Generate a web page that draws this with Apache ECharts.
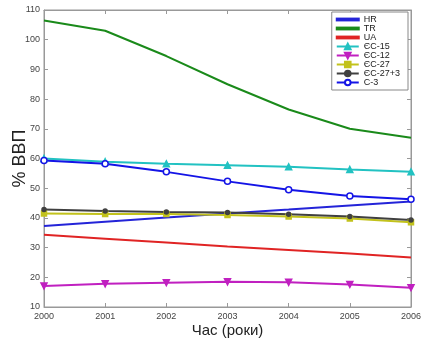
<!DOCTYPE html>
<html><head><meta charset="utf-8">
<script src="https://cdn.jsdelivr.net/npm/echarts@6/dist/echarts.min.js"></script>
<style>html,body{margin:0;padding:0;background:#fff}#c{width:437px;height:345px}</style>
</head><body><div id="c"></div>
<script>
const years = [2000, 2001, 2002, 2003, 2004, 2005, 2006];
const HR = [37.3, 38.7, 40.1, 41.5, 42.8, 44.2, 45.5];
const TR = [106.5, 103.0, 94.5, 85.0, 76.5, 70.0, 67.0];
const UA = [34.3, 33.0, 31.7, 30.4, 29.2, 28.0, 26.7];
const EU15 = [60.0, 58.9, 58.2, 57.7, 57.2, 56.3, 55.5];
const EU12 = [17.1, 17.8, 18.2, 18.5, 18.3, 17.6, 16.5];
const EU27 = [41.5, 41.3, 41.3, 41.0, 40.5, 39.8, 38.5];
const EU27p3 = [42.8, 42.3, 42.0, 41.8, 41.2, 40.5, 39.3];
const C3 = [59.3, 58.2, 55.5, 52.3, 49.5, 47.4, 46.3];
const names = ['HR', 'TR', 'UA', 'ЄС-15', 'ЄС-12', 'ЄС-27', 'ЄС-27+3', 'С-3'];

function pts(arr){ return years.map((y,i)=>[y,arr[i]]); }
function ser(name, arr, color, symbol, size, fill){
  return {name, type:'line', data:pts(arr), lineStyle:{color, width:2}, itemStyle:{color: fill||color, borderColor:color, borderWidth:1.5},
    color, symbol: symbol||'none', symbolSize: size||5, showSymbol: !!symbol, z:3};
}
const lineIcon = 'path://M0,4 L24,4 L24,6 L0,6 Z';
const chart = echarts.init(document.getElementById('c'));
chart.setOption({
  animation:false,
  textStyle:{fontFamily:'Liberation Sans, Arial, sans-serif'},
  grid:{left:44, right:26, top:10, bottom:38, show:true, borderColor:'#999', borderWidth:1, containLabel:false, outerBoundsMode:'none'},
  xAxis:[{type:'value', min:2000, max:2006, interval:1,
    axisLine:{show:true, lineStyle:{color:'#999'}}, axisTick:{inside:true, length:4, lineStyle:{color:'#999'}},
    axisLabel:{color:'#444', fontSize:9, margin:5, formatter:v=>String(v)}, splitLine:{show:false},
    name:'Час (роки)', nameLocation:'middle', nameGap:16, nameMoveOverlap:false, nameTextStyle:{fontSize:15, color:'#222'}},
    {type:'value', position:'top', min:2000, max:2006, interval:1, axisLine:{show:true, lineStyle:{color:'#999'}},
     axisTick:{inside:true, length:4, lineStyle:{color:'#999'}}, axisLabel:{show:false}, splitLine:{show:false}}],
  yAxis:[{type:'value', min:10, max:110, interval:10,
    axisLine:{show:true, lineStyle:{color:'#999'}}, axisTick:{inside:true, length:4, lineStyle:{color:'#999'}},
    axisLabel:{color:'#444', fontSize:9, margin:4}, splitLine:{show:false},
    name:'% ВВП', nameLocation:'middle', nameGap:15, nameMoveOverlap:false, nameRotate:90, nameTextStyle:{fontSize:18, color:'#222'}},
    {type:'value', position:'right', min:10, max:110, interval:10, axisLine:{show:true, lineStyle:{color:'#999'}},
     axisTick:{inside:true, length:4, lineStyle:{color:'#999'}}, axisLabel:{show:false}, splitLine:{show:false}}],
  legend:{orient:'vertical', right:29, top:12, itemWidth:22, itemHeight:7, itemGap:0,
    data: names.map((n,i)=> i<3 ? {name:n, icon:lineIcon} : {name:n}),
    backgroundColor:'#fff', borderColor:'#888', borderWidth:1, padding:[3,8,3,4],
    textStyle:{fontSize:9, color:'#222', lineHeight:9}},
  series:[
    ser(names[0], HR, '#2424d8'),
    ser(names[1], TR, '#1a8a1a'),
    ser(names[2], UA, '#e02424'),
    ser(names[3], EU15, '#22c2c2', 'triangle', 6),
    ser(names[4], EU12, '#c020c0', 'path://M0,0 L10,0 L5,10 Z', 6),
    ser(names[5], EU27, '#c2c21c', 'rect', 5),
    ser(names[6], EU27p3, '#404040', 'circle', 4),
    ser(names[7], C3, '#1414e6', 'circle', 6, '#fff')
  ]
});
</script></body></html>
